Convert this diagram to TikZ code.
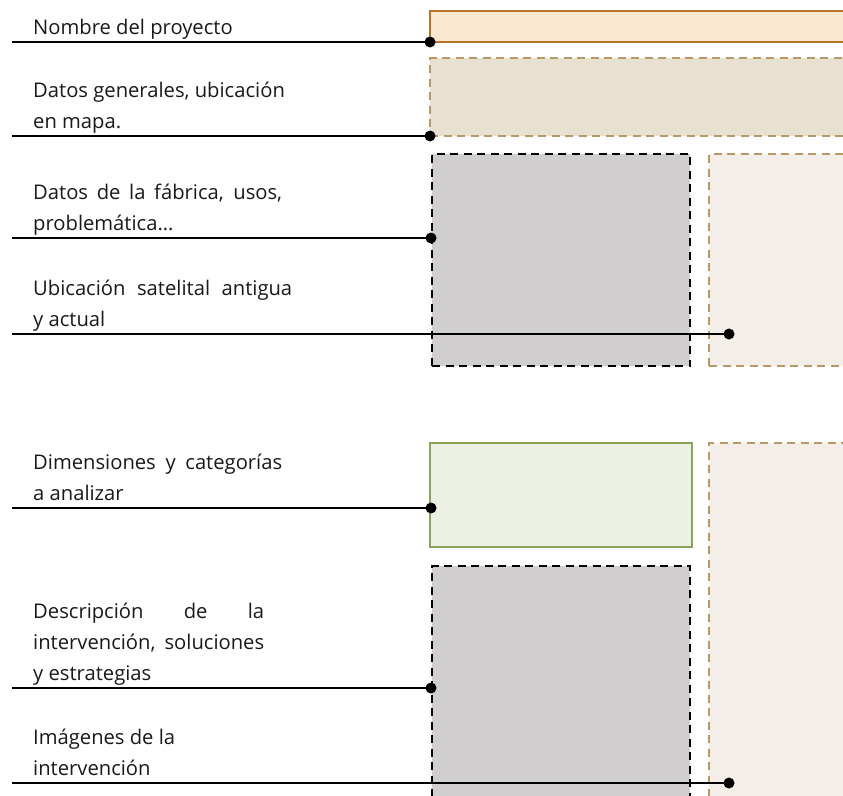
\documentclass[tikz,border=0pt]{standalone}
\usepackage{fontspec}
\setmainfont{Open Sans}
\usepackage{tikz}

\definecolor{txt}{RGB}{25,25,25}
\definecolor{naranjaborde}{RGB}{185,116,40}
\definecolor{naranjafondo}{RGB}{251,232,208}
\definecolor{tostadoborde}{RGB}{184,152,102}
\definecolor{tostadofondo}{RGB}{232,224,209}
\definecolor{crema}{RGB}{243,238,231}
\definecolor{grisfondo}{RGB}{208,206,207}
\definecolor{verdeborde}{RGB}{137,163,88}
\definecolor{verdefondo}{RGB}{237,241,227}

\tikzset{
	desc/.style = {anchor=south west, inner sep=0, text width=#1, align=justify, text=txt, font=\fontsize{20.2}{31}\selectfont},
	desc/.default = 260pt,
	caja/.style = {anchor=north west, inner sep=0, outer sep=0, line width=2.2pt},
	rayada/.style = {line width=2.8pt, dash pattern=on 8pt off 5.5pt},
	punto/.style = {circle, fill=black, inner sep=0, minimum size=11pt},
	linea/.style = {line width=2.2pt}
}

\begin{document}
\begin{tikzpicture}[x=1pt, y=-1pt]
	
	\useasboundingbox (0,0) rectangle (843,795);
	\clip (0,0) rectangle (843,795);
	
	\node[caja, draw=naranjaborde, fill=naranjafondo, minimum width=430pt, minimum height=31pt] (proyecto) at (430,11) {};
	\node[caja, rayada, draw=tostadoborde, fill=tostadofondo, minimum width=430pt, minimum height=78pt] (generales) at (430,58) {};
	\node[caja, rayada, draw=black, fill=grisfondo, minimum width=258pt, minimum height=212pt] (fabrica) at (432,154) {};
	\node[caja, rayada, draw=tostadoborde, fill=crema, minimum width=150pt, minimum height=212pt] (satelital) at (709,154) {};
	\node[caja, draw=verdeborde, fill=verdefondo, minimum width=262pt, minimum height=104pt] (dimensiones) at (430,443) {};
	\node[caja, rayada, draw=tostadoborde, fill=crema, minimum width=150pt, minimum height=380pt] (imagenes) at (709,443) {};
	\node[caja, rayada, draw=black, fill=grisfondo, minimum width=258pt, minimum height=260pt] (descripcion) at (432,566) {};
	
	\node[desc] (t1) at (33,44) {Nombre del proyecto\strut};
	\node[desc] (t2) at (33,138) {Datos generales, ubicación\\en mapa.\strut};
	\node[desc=249pt] (t3) at (33,240) {Datos de la fábrica, usos,\linebreak problemática…\strut};
	\node[desc=259pt] (t4) at (33,336) {Ubicación satelital antigua\linebreak y actual\strut};
	\node[desc=249pt] (t5) at (33,510) {Dimensiones y categorías\linebreak a analizar\strut};
	\node[desc=231pt] (t6) at (33,690) {Descripción de la\linebreak intervención, soluciones\linebreak y estrategias\strut};
	\node[desc] (t7) at (33,785) {Imágenes de la\\intervención\strut};
	
	\node[punto] (p1) at (proyecto.south west) {};
	\node[punto] (p2) at (generales.south west) {};
	\node[punto] (p3) at (431,238) {};
	\node[punto] (p4) at (729,334) {};
	\node[punto] (p5) at (431,508) {};
	\node[punto] (p6) at (431,688) {};
	\node[punto] (p7) at (729,783) {};
	
	\coordinate (i1) at (12,42);
	\coordinate (i2) at (12,136);
	\coordinate (i3) at (12,238);
	\coordinate (i4) at (12,334);
	\coordinate (i5) at (12,508);
	\coordinate (i6) at (12,688);
	\coordinate (i7) at (12,783);
	
	\foreach \i in {1,...,7}
		\draw[linea] (i\i) -- (p\i.center);
	
\end{tikzpicture}
\end{document}
